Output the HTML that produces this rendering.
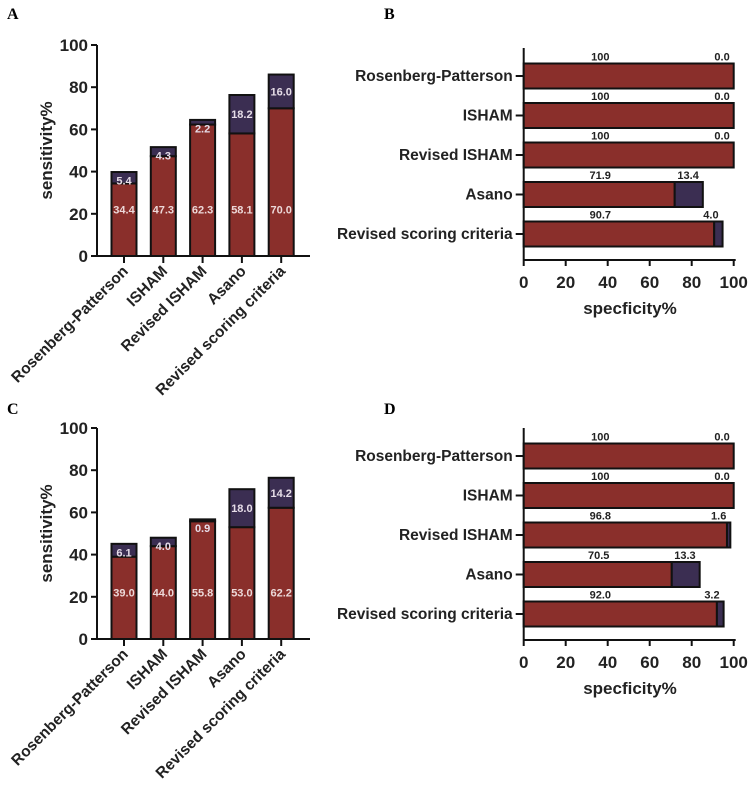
<!DOCTYPE html>
<html><head><meta charset="utf-8"><style>
body{margin:0;background:#fff;}
svg{display:block;font-family:"Liberation Sans",Arial,sans-serif;}
</style></head><body>
<svg id="fig" width="753" height="793" viewBox="0 0 753 793" xmlns="http://www.w3.org/2000/svg">
<text x="7" y="19" font-family="Liberation Serif,serif" font-weight="bold" font-size="16">A</text>
<text x="384" y="19" font-family="Liberation Serif,serif" font-weight="bold" font-size="16">B</text>
<text x="7" y="414" font-family="Liberation Serif,serif" font-weight="bold" font-size="16">C</text>
<text x="384" y="414" font-family="Liberation Serif,serif" font-weight="bold" font-size="16">D</text>
</svg>
<script>
const categories = ["Rosenberg-Patterson","ISHAM","Revised  ISHAM","Asano","Revised scoring criteria"];
const hCategories = ["Rosenberg-Patterson","ISHAM","Revised ISHAM","Asano","Revised scoring criteria"];
const sensA_red = [34.4,47.3,62.3,58.1,70.0];
const sensA_blue = [5.4,4.3,2.2,18.2,16.0];
const specB_red = [100,100,100,71.9,90.7];
const specB_blue = [0.0,0.0,0.0,13.4,4.0];
const sensC_red = [39.0,44.0,55.8,53.0,62.2];
const sensC_blue = [6.1,4.0,0.9,18.0,14.2];
const specD_red = [100,100,96.8,70.5,92.0];
const specD_blue = [0.0,0.0,1.6,13.3,3.2];
const ticks = [0,20,40,60,80,100];
const RED="#8a2f2b", BLUE="#3b2e52";
const svg=document.getElementById('fig');
const NS="http://www.w3.org/2000/svg";
function mk(tag,attrs,parent){const e=document.createElementNS(NS,tag);for(const k in attrs)e.setAttribute(k,attrs[k]);(parent||svg).appendChild(e);return e;}
function fmt(v){return v===100?"100":v.toFixed(1);}

function vPanel(id,red,blue,y0){
  const g=mk('g',{});
  
  
  const ax=97, yb=y0, yt=y0-211, xr=310;
  const ys=v=>yb-(v/100)*(yb-yt);
  const xs=i=>124+i*39.3;
  const bw=25;
  let l=mk('line',{x1:ax,y1:yt,x2:ax,y2:yb,stroke:'#111','stroke-width':2},g);
  
  l=mk('line',{x1:ax,y1:yb,x2:xr,y2:yb,stroke:'#111','stroke-width':2},g);
  
  ticks.forEach(t=>{
    mk('line',{x1:ax-6,y1:ys(t),x2:ax,y2:ys(t),stroke:'#111','stroke-width':2},g);
    const tx=mk('text',{x:ax-9,y:ys(t)+6,'text-anchor':'end','font-size':17,'font-weight':'bold',fill:'#222'},g);
    tx.textContent=t;
    
  });
  const yt2=mk('text',{transform:`translate(52,${(yt+yb)/2}) rotate(-90)`,'text-anchor':'middle','font-size':17,'font-weight':'bold',fill:'#222'},g);
  yt2.textContent='sensitivity%';
  
  categories.forEach((c,i)=>{
    const x=xs(i);
    mk('line',{x1:x,y1:yb,x2:x,y2:yb+7,stroke:'#111','stroke-width':2},g);
    const r=mk('rect',{x:x-bw/2,y:ys(red[i]),width:bw,height:yb-ys(red[i]),fill:RED,stroke:'#111','stroke-width':2},g);
    
    const top=red[i]+blue[i];
    const b=mk('rect',{x:x-bw/2,y:ys(top),width:bw,height:ys(red[i])-ys(top),fill:BLUE,stroke:'#111','stroke-width':2},g);
    
    let t=mk('text',{x:x,y:ys(22)+4,'text-anchor':'middle','font-size':11,'font-weight':'bold',fill:'#ecd8d8'},g);
    t.textContent=fmt(red[i]);
    const bc=blue[i]>=8?red[i]+blue[i]/2:top-4;
    t=mk('text',{x:x,y:ys(bc)+4,'text-anchor':'middle','font-size':11,'font-weight':'bold',fill:'#e6dde8'},g);
    t.textContent=fmt(blue[i]);
    t=mk('text',{transform:`translate(${x+5},${yb+16}) rotate(-45)`,'text-anchor':'end','font-size':15.5,'font-weight':'bold',fill:'#222'},g);
    t.textContent=c;
  });
}

function hPanel(id,red,blue,yAxis,firstBar){
  const g=mk('g',{});
  
  
  const x0=523.7,x1=733.7;
  const xs=v=>x0+(v/100)*(x1-x0);
  const yc=i=>firstBar+i*39.5;
  const bh=25;
  let l=mk('line',{x1:x0,y1:yAxis-212,x2:x0,y2:yAxis,stroke:'#111','stroke-width':2},g);
  
  l=mk('line',{x1:x0,y1:yAxis,x2:x1+2,y2:yAxis,stroke:'#111','stroke-width':2},g);
  
  ticks.forEach(t=>{
    mk('line',{x1:xs(t),y1:yAxis,x2:xs(t),y2:yAxis+6,stroke:'#111','stroke-width':2},g);
    const tx=mk('text',{x:xs(t),y:yAxis+28,'text-anchor':'middle','font-size':17,'font-weight':'bold',fill:'#222'},g);
    tx.textContent=t;
  });
  const tt=mk('text',{x:630,y:yAxis+54,'text-anchor':'middle','font-size':17,'font-weight':'bold',fill:'#222'},g);
  tt.textContent='specficity%';
  hCategories.forEach((c,i)=>{
    const y=yc(i);
    mk('line',{x1:x0-8,y1:y,x2:x0,y2:y,stroke:'#111','stroke-width':2},g);
    let t=mk('text',{x:x0-11,y:y+5,'text-anchor':'end','font-size':15.5,'font-weight':'bold',fill:'#222'},g);
    t.textContent=c;
    const r=mk('rect',{x:x0,y:y-bh/2,width:xs(red[i])-x0,height:bh,fill:RED,stroke:'#111','stroke-width':2},g);
    
    if(blue[i]>0){
      const b=mk('rect',{x:xs(red[i]),y:y-bh/2,width:xs(red[i]+blue[i])-xs(red[i]),height:bh,fill:BLUE,stroke:'#111','stroke-width':2},g);
      
    }
    t=mk('text',{x:xs(Math.min(red[i],72)/2)+1,y:y-bh/2-3,'text-anchor':'middle','font-size':11,'font-weight':'bold',fill:'#222'},g);
    t.textContent=fmt(red[i]);
    t=mk('text',{x:xs(red[i]+blue[i])-4,y:y-bh/2-3,'text-anchor':'end','font-size':11,'font-weight':'bold',fill:'#222'},g);
    t.textContent=fmt(blue[i]);
  });
}

vPanel('panel-a',sensA_red,sensA_blue,256);
hPanel('panel-b',specB_red,specB_blue,260,76);
vPanel('panel-c',sensC_red,sensC_blue,639);
hPanel('panel-d',specD_red,specD_blue,640,456);
</script>
</body></html>
